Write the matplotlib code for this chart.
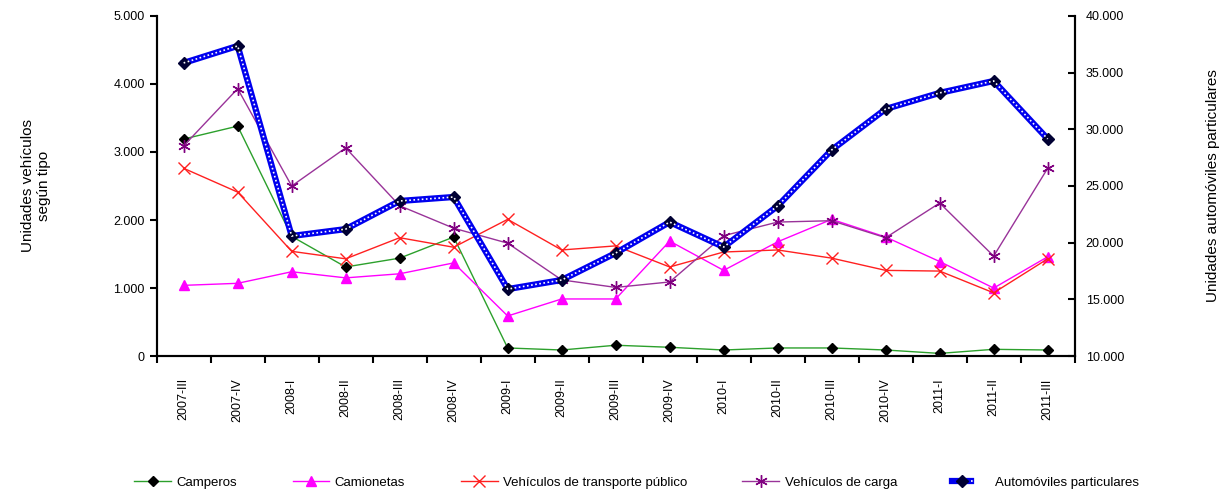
import matplotlib.pyplot as plt
from matplotlib.ticker import FuncFormatter, FixedLocator
from matplotlib.lines import Line2D
from matplotlib.legend_handler import HandlerTuple

plt.rcParams['font.family'] = ['Liberation Sans', 'DejaVu Sans']

periodos = ['2007-III', '2007-IV', '2008-I', '2008-II', '2008-III', '2008-IV',
            '2009-I', '2009-II', '2009-III', '2009-IV', '2010-I', '2010-II',
            '2010-III', '2010-IV', '2011-I', '2011-II', '2011-III']

camperos = [3190, 3380, 1760, 1310, 1440, 1750, 120, 90, 160, 130, 90, 120,
            120, 90, 40, 100, 90]
camionetas = [1040, 1070, 1240, 1150, 1210, 1370, 590, 840, 840, 1690, 1260,
              1680, 2010, 1750, 1390, 1000, 1460]
transporte = [2760, 2410, 1540, 1430, 1740, 1600, 2010, 1560, 1620, 1310, 1530,
              1560, 1440, 1260, 1250, 930, 1430]
carga = [3090, 3930, 2500, 3060, 2210, 1880, 1660, 1120, 1010, 1090, 1770,
         1970, 1990, 1740, 2250, 1470, 2760]
automoviles = [35850, 37350, 20590, 21200, 23680, 24030, 15910, 16710, 19090,
               21820, 19620, 23240, 28180, 31790, 33210, 34260, 29150]

fmt = FuncFormatter(lambda v, p: f'{int(v):,}'.replace(',', '.'))

fig = plt.figure(figsize=(12.24, 4.96), dpi=100)
ax = fig.add_axes([0.128, 0.282, 0.75, 0.686])
ax2 = ax.twinx()

x = list(range(len(periodos)))

ax.plot(x, camperos, color='#2ca02c', lw=1, marker='D', ms=5,
        mfc='black', mec='black', zorder=3)
ax.plot(x, camionetas, color='#ff00ff', lw=1, marker='^', ms=7,
        mfc='#ff00ff', mec='#ff00ff', zorder=3)
ax.plot(x, transporte, color='#ff2020', lw=1, marker='x', ms=8, mew=1,
        zorder=3)
ax.plot(x, carga, color='#993399', lw=1, marker=(6, 2, 0), ms=9, mew=1,
        mec='#800080', zorder=3)

ax2.plot(x, automoviles, color='#0000ee', lw=4.5, marker='D', ms=6,
         mfc='#000033', mec='#000033', zorder=3)
ax2.plot(x, automoviles, color='white', lw=1.2, ls=(0, (1, 1.5)), zorder=4)

ax.set_xlim(-0.5, len(periodos) - 0.5)
ax.set_ylim(0, 5000)
ax2.set_ylim(10000, 40000)
ax.set_yticks(range(0, 5001, 1000))
ax2.set_yticks(range(10000, 40001, 5000))
ax.yaxis.set_major_formatter(fmt)
ax2.yaxis.set_major_formatter(fmt)

# category boundaries carry the tick marks, labels sit at the centres
ax.xaxis.set_major_locator(FixedLocator([i - 0.5 for i in range(len(periodos) + 1)]))
ax.xaxis.set_major_formatter(FuncFormatter(lambda v, p: ''))
ax.xaxis.set_minor_locator(FixedLocator(x))
ax.set_xticklabels(periodos, minor=True, rotation=90, fontsize=9)
ax.tick_params(axis='x', which='minor', length=0, pad=16)
ax.tick_params(axis='x', which='major', length=5, width=1.5, direction='out')
ax.tick_params(axis='y', length=5, width=1.5, direction='out', labelsize=9)
ax2.tick_params(axis='y', length=5, width=1.5, direction='in', labelsize=9, pad=8)

for a in (ax, ax2):
    a.spines['top'].set_visible(False)
    for s in ('left', 'right', 'bottom'):
        a.spines[s].set_linewidth(1.5)

ax.set_ylabel('Unidades vehículos\nsegún tipo', fontsize=11, labelpad=45)
ax2.set_ylabel('Unidades automóviles particulares', fontsize=11, labelpad=59)

handles = [
    Line2D([], [], color='#2ca02c', lw=1, marker='D', ms=5, mfc='black', mec='black'),
    Line2D([], [], color='#ff00ff', lw=1, marker='^', ms=7, mfc='#ff00ff', mec='#ff00ff'),
    Line2D([], [], color='#ff2020', lw=1, marker='x', ms=8),
    Line2D([], [], color='#993399', lw=1, marker=(6, 2, 0), ms=9, mec='#800080'),
    (Line2D([], [], color='#0000ee', lw=4.5, marker='D', ms=6, mfc='#000033', mec='#000033'),
     Line2D([], [], color='white', lw=1.2, ls=(0, (1, 1.5)))),
]
labels = ['Camperos', 'Camionetas', 'Vehículos de transporte público',
          'Vehículos de carga', 'Automóviles particulares']
fig.legend(handles, labels, loc='center', bbox_to_anchor=(0.52, 0.027), ncol=5,
           frameon=False, fontsize=9.5, columnspacing=4.2, handlelength=2.8,
           handletextpad=0.4,
           handler_map={tuple: HandlerTuple(ndivide=None, pad=0)})

fig.savefig('out.png', dpi=100)
